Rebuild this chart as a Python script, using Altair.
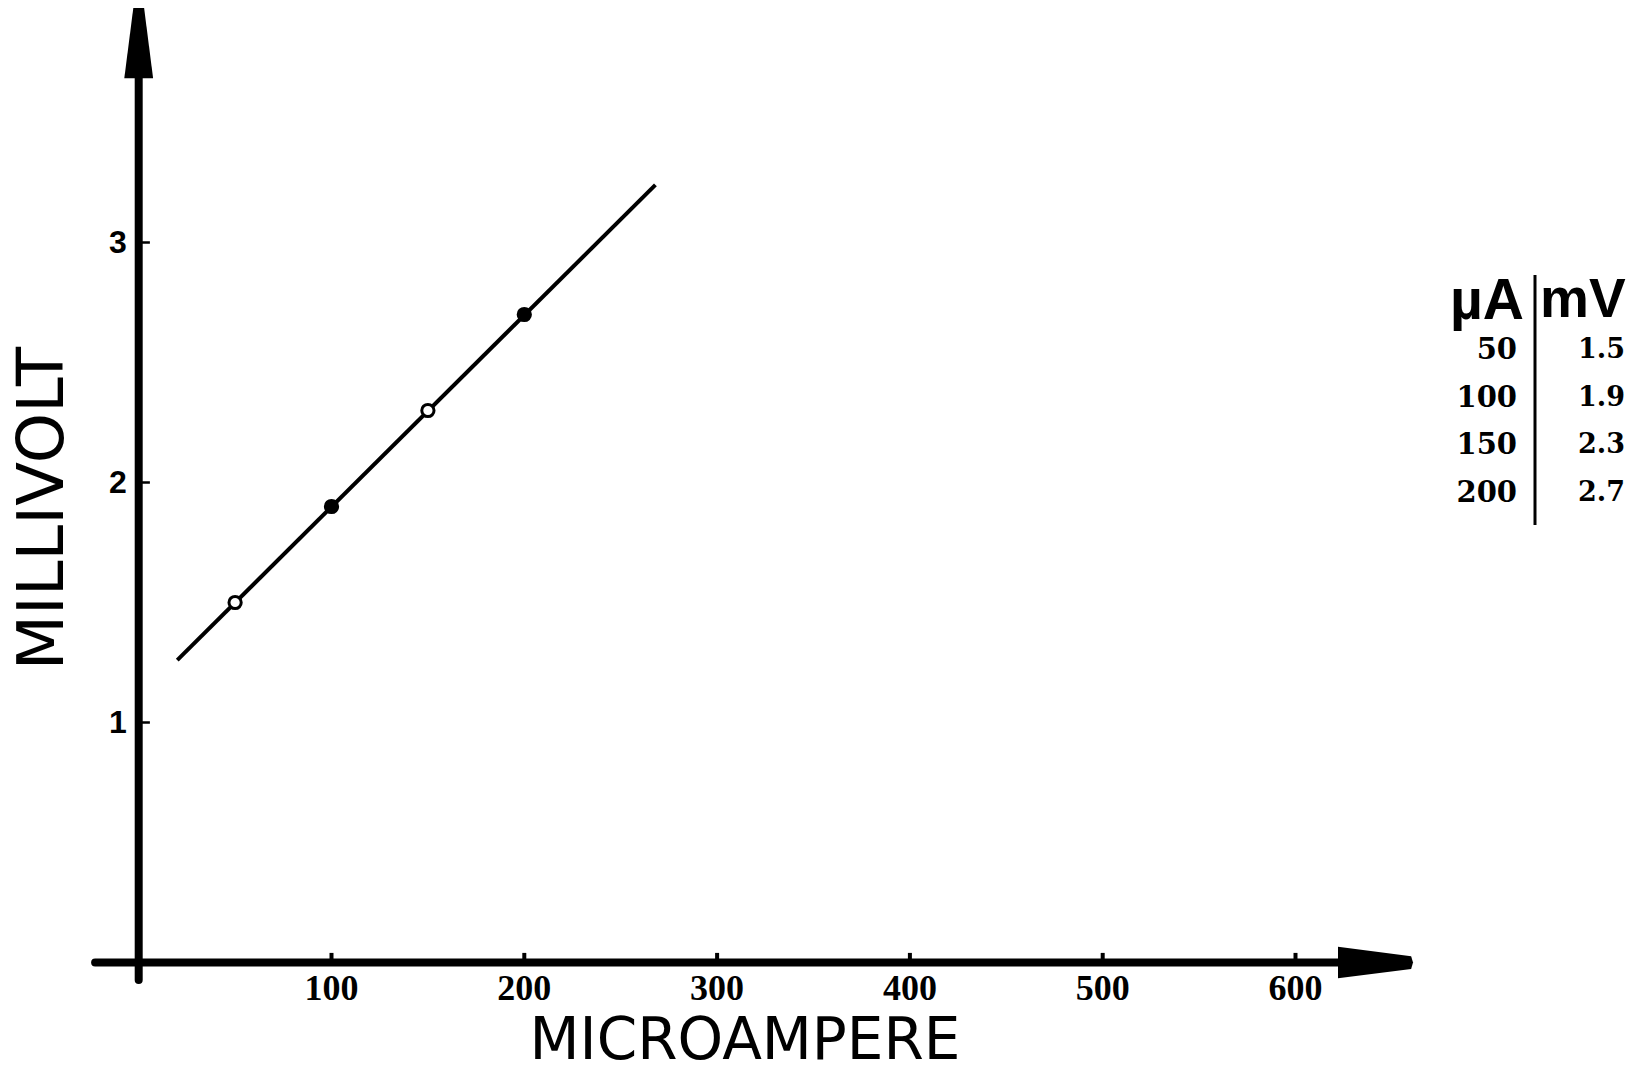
import altair as alt
import pandas as pd

# ---- data ----
current_ua = [50, 100, 150, 200]
voltage_mv = [1.5, 1.9, 2.3, 2.7]
point_filled = [False, True, False, True]
fit_x = [20, 268]
fit_y = [1.26, 3.24]
x_ticks = [100, 200, 300, 400, 500, 600]
y_ticks = [1, 2, 3]

# ---- layout (pixels) ----
W, H = 1626, 1068
X0_PX, PX_PER_X = 138.7, 1.928      # pixel of x=0, pixels per µA
Y0_PX, PX_PER_Y = 962.5, 240.0      # pixel of y=0, pixels per mV
x_dom = [-X0_PX / PX_PER_X, (W - X0_PX) / PX_PER_X]
y_dom = [-(H - Y0_PX) / PX_PER_Y, Y0_PX / PX_PER_Y]

xs = alt.Scale(domain=x_dom, nice=False, zero=False)
ys = alt.Scale(domain=y_dom, nice=False, zero=False)

pts = pd.DataFrame({"ua": current_ua, "mv": voltage_mv, "filled": point_filled})
fit = pd.DataFrame({"ua": fit_x, "mv": fit_y})

# axis lines
yaxis_line = alt.Chart(pd.DataFrame({"x": [0], "y": [-0.073], "y2": [3.70]})).mark_rule(
    color="black", strokeWidth=8, strokeCap="round").encode(
    x=alt.X("x:Q", scale=xs, axis=None),
    y=alt.Y("y:Q", scale=ys, axis=None), y2="y2:Q")
xaxis_line = alt.Chart(pd.DataFrame({"x": [-22.6], "x2": [625], "y": [0]})).mark_rule(
    color="black", strokeWidth=8, strokeCap="round").encode(
    x=alt.X("x:Q", scale=xs), x2="x2:Q", y=alt.Y("y:Q", scale=ys))

# tick bumps
xt = alt.Chart(pd.DataFrame({"x": x_ticks})).transform_calculate(y0="0", y1="0.04").mark_rule(
    color="black", strokeWidth=4).encode(
    x=alt.X("x:Q", scale=xs), y=alt.Y("y0:Q", scale=ys), y2="y1:Q")
yt = alt.Chart(pd.DataFrame({"y": y_ticks})).transform_calculate(x0="0", x1="5.8").mark_rule(
    color="black", strokeWidth=2.5).encode(
    y=alt.Y("y:Q", scale=ys), x=alt.X("x0:Q", scale=xs), x2="x1:Q")

# tick labels (placed through the same scales)
xl = alt.Chart(pd.DataFrame({"x": x_ticks})).transform_calculate(y0="0").mark_text(
    font="Liberation Serif", fontWeight="bold", fontSize=36, align="center", baseline="middle",
    dy=26, color="black").encode(
    x=alt.X("x:Q", scale=xs), y=alt.Y("y0:Q", scale=ys), text=alt.Text("x:Q", format="d"))
yl = alt.Chart(pd.DataFrame({"y": y_ticks})).transform_calculate(x0="0").mark_text(
    font="Liberation Sans", fontWeight="bold", fontSize=32, align="right", baseline="middle",
    dx=-12, color="black").encode(
    y=alt.Y("y:Q", scale=ys), x=alt.X("x0:Q", scale=xs), text=alt.Text("y:Q", format="d"))

# arrowheads (custom symbol paths)
up_arrow = "M-0.15,-1 L0.15,-1 L0.4,0.95 L-0.4,0.95 Z"
right_arrow = "M-1,-0.42 L0.95,-0.17 L1,0 L0.95,0.17 L-1,0.42 Z"
ya = alt.Chart(pd.DataFrame({"x": [0], "y": [3.827]})).mark_point(
    shape=up_arrow, filled=True, size=5184, color="black", opacity=1).encode(
    x=alt.X("x:Q", scale=xs), y=alt.Y("y:Q", scale=ys))
xa = alt.Chart(pd.DataFrame({"x": [641.5], "y": [0]})).mark_point(
    shape=right_arrow, filled=True, size=5625, color="black", opacity=1).encode(
    x=alt.X("x:Q", scale=xs), y=alt.Y("y:Q", scale=ys))

# fitted line
line = alt.Chart(fit).mark_line(color="black", strokeWidth=4).encode(
    x=alt.X("ua:Q", scale=xs), y=alt.Y("mv:Q", scale=ys))

# measured points
points = alt.Chart(pts).mark_point(size=150, strokeWidth=3, opacity=1, shape="circle").encode(
    x=alt.X("ua:Q", scale=xs), y=alt.Y("mv:Q", scale=ys),
    fill=alt.condition("datum.filled", alt.value("black"), alt.value("white")),
    stroke=alt.value("black"))

# axis titles
ytitle = alt.Chart(pd.DataFrame({"t": ["MILLIVOLT"]})).mark_text(
    font="DejaVu Sans", fontSize=64, angle=270, align="center", baseline="middle", color="black").encode(
    text="t:N", x=alt.value(44), y=alt.value(508.5))
xtitle = alt.Chart(pd.DataFrame({"t": ["MICROAMPERE"]})).mark_text(
    font="DejaVu Sans", fontSize=58, align="center", baseline="middle", color="black").encode(
    text="t:N", x=alt.value(745), y=alt.value(1042))

# value table
tbl = pd.DataFrame({"ua": [str(v) for v in current_ua],
                    "mv": [f"{v:.1f}" for v in voltage_mv],
                    "row": list(range(len(current_ua)))})
tbl_base = alt.Chart(tbl).transform_calculate(ypx="350 + 47.5 * datum.row")
col_ua = tbl_base.mark_text(font="DejaVu Serif", fontWeight="bold", fontSize=29, align="right",
                            baseline="middle", color="black").encode(
    text="ua:N", x=alt.value(1517), y=alt.Y("ypx:Q", scale=None))
col_mv = tbl_base.mark_text(font="DejaVu Serif", fontWeight="bold", fontSize=27, align="left",
                            baseline="middle", color="black").encode(
    text="mv:N", x=alt.value(1578), y=alt.Y("ypx:Q", scale=None))
hdr = pd.DataFrame({"t": ["µA", "mV"]})
hdr_ua = alt.Chart(hdr.iloc[[0]]).mark_text(font="Liberation Sans", fontWeight="bold", fontSize=57,
                                            align="right", baseline="alphabetic", color="black").encode(
    text="t:N", x=alt.value(1524), y=alt.value(319))
hdr_mv = alt.Chart(hdr.iloc[[1]]).mark_text(font="Liberation Sans", fontWeight="bold", fontSize=55,
                                            align="left", baseline="alphabetic", color="black").encode(
    text="t:N", x=alt.value(1540), y=alt.value(317))
divider = alt.Chart(pd.DataFrame({"a": [0]})).mark_rule(color="black", strokeWidth=3).encode(
    x=alt.value(1535), y=alt.value(275), y2=alt.value(525))

chart = alt.layer(
    yaxis_line, xaxis_line, xt, yt, ya, xa, line, points, xl, yl,
    ytitle, xtitle, col_ua, col_mv, hdr_ua, hdr_mv, divider
).properties(
    width=W, height=H,
    autosize=alt.AutoSizeParams(type="none"),
    padding=0,
    background="white",
).configure_view(stroke=None)

chart.save("out.html", embed_options={"renderer": "svg", "actions": False})
